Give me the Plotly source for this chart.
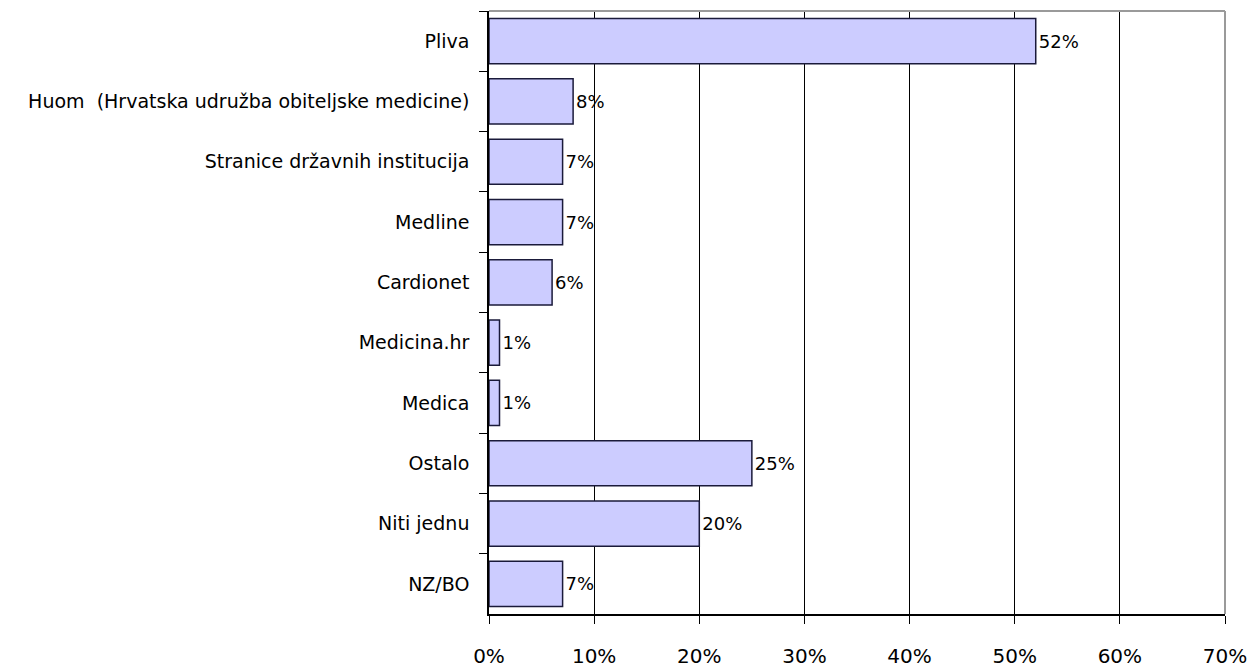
import plotly.graph_objects as go

categories = ["Pliva", "Huom  (Hrvatska udružba obiteljske medicine)", "Stranice državnih institucija",
              "Medline", "Cardionet", "Medicina.hr", "Medica", "Ostalo", "Niti jednu", "NZ/BO"]
values = [52, 8, 7, 7, 6, 1, 1, 25, 20, 7]
labels = [f"{v}%" for v in values]
xticks = [0, 10, 20, 30, 40, 50, 60, 70]
xticklabels = [f"{t}%" for t in xticks]

FONT = "DejaVu Sans, Arial, sans-serif"

fig = go.Figure(go.Bar(
    x=values, y=categories, orientation="h",
    text=labels, textposition="outside", cliponaxis=False,
    textfont=dict(family=FONT, size=18, color="#000000"),
    marker=dict(color="#CCCCFF", line=dict(color="#1a1a3a", width=1.5)),
))

fig.update_layout(
    width=1259, height=672,
    margin=dict(l=481, r=42, t=3, b=66),
    paper_bgcolor="white", plot_bgcolor="white",
    bargap=0.25, showlegend=False,
    font=dict(family=FONT, size=17, color="#000000"),
)
fig.update_xaxes(
    range=[0, 70], tickvals=xticks, ticktext=xticklabels,
    showgrid=True, gridcolor="#000000", gridwidth=1.2,
    showline=True, linecolor="#000000", linewidth=1.5,
    ticks="outside", ticklen=8, tickcolor="#000000",
    ticklabelstandoff=15, zeroline=False,
    tickfont=dict(family=FONT, size=20, color="#000000"),
)
fig.update_yaxes(
    autorange="reversed", tickson="boundaries",
    showgrid=False, showline=True, linecolor="#000000", linewidth=1.5,
    ticks="outside", ticklen=8, tickcolor="#000000",
    ticklabelstandoff=14,
    tickfont=dict(family=FONT, size=19, color="#000000"),
)
# grey top and right border of the plot area
fig.add_shape(type="line", xref="paper", yref="paper", x0=0, x1=1, y0=1, y1=1,
              line=dict(color="#9a9a9a", width=2), layer="above")
fig.add_shape(type="line", xref="paper", yref="paper", x0=1, x1=1, y0=0, y1=1,
              line=dict(color="#9a9a9a", width=2), layer="above")

fig.write_html("out.html")
